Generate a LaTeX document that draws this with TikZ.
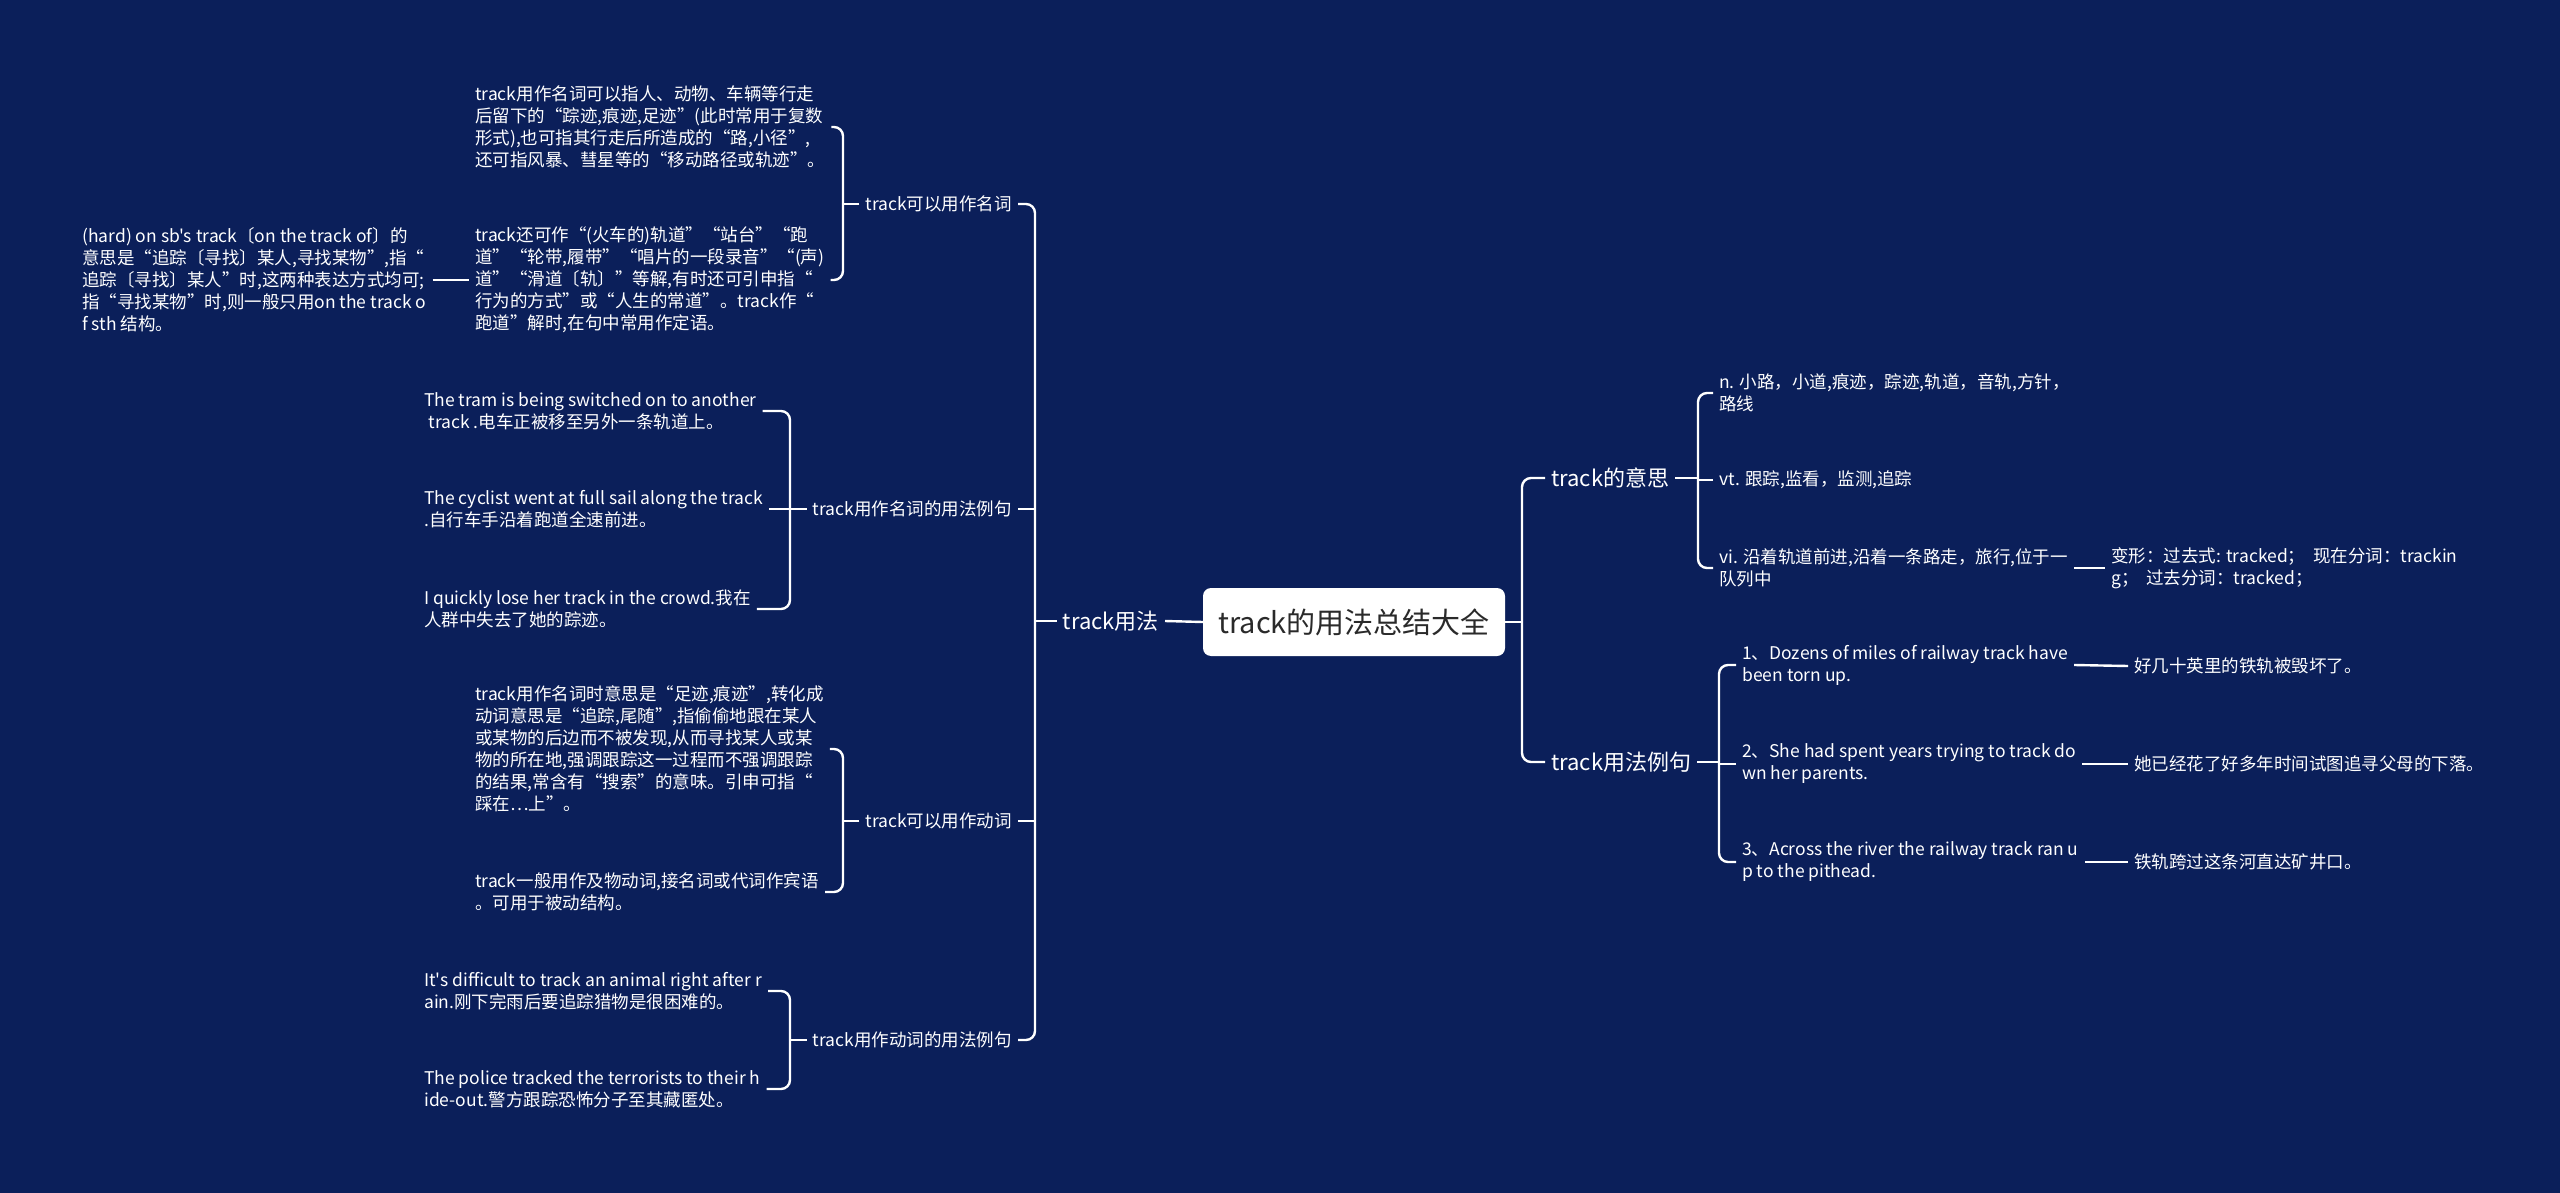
\documentclass[tikz,border=0pt]{standalone}
\usepackage{fontspec}
\setmainfont{Noto Sans CJK SC}[Ligatures=TeXOff]
\definecolor{bg}{HTML}{0B1F5A}
\definecolor{roottext}{HTML}{2A2A2A}
\tikzset{
  conn/.style={draw=white, line width=2.4pt, rounded corners=9pt},
  leaf/.style={text=white, font=\fontsize{17.5}{22}\selectfont, align=left, inner sep=6pt, anchor=west},
  lbl/.style={text=white, font=\fontsize{17.5}{22}\selectfont, inner sep=6pt},
  lvlone/.style={text=white, font=\fontsize{22}{26}\selectfont, inner sep=6pt},
  rootbox/.style={fill=white, text=roottext, rounded corners=8pt, minimum width=302pt, minimum height=68pt, font=\fontsize{29}{34}\selectfont, inner sep=0pt}
}
\begin{document}
\begin{tikzpicture}[x=1pt,y=-1pt]
\useasboundingbox (0,0) rectangle (2560,1193);
\fill[bg] (0,0) rectangle (2560,1193);

% bracket x positions
\coordinate (bL) at (1035,0);
\coordinate (bR) at (1522,0);
\coordinate (bN) at (843,0);
\coordinate (bNE) at (790,0);
\coordinate (bM) at (1698,0);
\coordinate (bX) at (1719,0);

% root and level 1
\node[rootbox] (root) at (1354,622) {track的用法总结大全};
\node[lvlone, anchor=east] (use) at (1165,621) {track用法};
\node[lvlone, anchor=west] (mean) at (1545,478) {track的意思};
\node[lvlone, anchor=west] (ex) at (1545,762) {track用法例句};

% level 2 left
\node[lbl, anchor=east] (nn) at (1018,204) {track可以用作名词};
\node[lbl, anchor=east] (nex) at (1018,509) {track用作名词的用法例句};
\node[lbl, anchor=east] (vv) at (1018,821) {track可以用作动词};
\node[lbl, anchor=east] (vex) at (1018,1040) {track用作动词的用法例句};

% leaves left
\node[leaf] (n1) at (469,127) {track用作名词可以指人、动物、车辆等行走\\后留下的“踪迹,痕迹,足迹”(此时常用于复数\\形式),也可指其行走后所造成的“路,小径”,\\还可指风暴、彗星等的“移动路径或轨迹”。};
\node[leaf] (n2) at (469,280) {track还可作“(火车的)轨道”“站台”“跑\\道”“轮带,履带”“唱片的一段录音”“(声)\\道”“滑道〔轨〕”等解,有时还可引申指“\\行为的方式”或“人生的常道”。track作“\\跑道”解时,在句中常用作定语。};
\node[leaf] (hard) at (76,280) {(hard) on sb's track〔on the track of〕的\\意思是“追踪〔寻找〕某人,寻找某物”,指“\\追踪〔寻找〕某人”时,这两种表达方式均可;\\指“寻找某物”时,则一般只用on the track o\\f sth 结构。};

\node[leaf] (e1) at (418,411) {The tram is being switched on to another\\\hspace*{0.25em}track .电车正被移至另外一条轨道上。};
\node[leaf] (e2) at (418,509) {The cyclist went at full sail along the track\\.自行车手沿着跑道全速前进。};
\node[leaf] (e3) at (418,609) {I quickly lose her track in the crowd.我在\\人群中失去了她的踪迹。};

\node[leaf] (v1) at (469,749) {track用作名词时意思是“足迹,痕迹”,转化成\\动词意思是“追踪,尾随”,指偷偷地跟在某人\\或某物的后边而不被发现,从而寻找某人或某\\物的所在地,强调跟踪这一过程而不强调跟踪\\的结果,常含有“搜索”的意味。引申可指“\\踩在…上”。};
\node[leaf] (v2) at (469,892) {track一般用作及物动词,接名词或代词作宾语\\。可用于被动结构。};

\node[leaf] (ve1) at (418,991) {It's difficult to track an animal right after r\\ain.刚下完雨后要追踪猎物是很困难的。};
\node[leaf] (ve2) at (418,1089) {The police tracked the terrorists to their h\\ide-out.警方跟踪恐怖分子至其藏匿处。};

% leaves right
\node[leaf] (m1) at (1713,393) {n. 小路，小道,痕迹，踪迹,轨道，音轨,方针，\\路线};
\node[leaf] (m2) at (1713,480) {vt. 跟踪,监看，监测,追踪};
\node[leaf] (m3) at (1713,568) {vi. 沿着轨道前进,沿着一条路走，旅行,位于一\\队列中};
\node[leaf] (m3c) at (2105,568) {变形：过去式: tracked；\ \ 现在分词：trackin\\g；\ \ 过去分词：tracked；};

\node[leaf] (x1) at (1736,665) {1、Dozens of miles of railway track have\\been torn up.};
\node[leaf] (x2) at (1736,764) {2、She had spent years trying to track do\\wn her parents.};
\node[leaf] (x3) at (1736,862) {3、Across the river the railway track ran u\\p to the pithead.};
\node[leaf] (x1c) at (2128,666) {好几十英里的铁轨被毁坏了。};
\node[leaf] (x2c) at (2128,764) {她已经花了好多年时间试图追寻父母的下落。};
\node[leaf] (x3c) at (2128,862) {铁轨跨过这条河直达矿井口。};

% connectors: root
\draw[conn] (use.east) -- (root.west);
\draw[conn] (use.west) -- (use.west -| bL);
\draw[conn] (nn.east) -- (nn.east -| bL) -- (vex.east -| bL) -- (vex.east);
\draw[conn] (nex.east) -- (nex.east -| bL);
\draw[conn] (vv.east) -- (vv.east -| bL);

\draw[conn] (root.east) -- (root.east -| bR);
\draw[conn] (mean.west) -- (mean.west -| bR) -- (ex.west -| bR) -- (ex.west);

% noun group
\draw[conn] (nn.west) -- (nn.west -| bN);
\draw[conn] (n1.east) -- (n1.east -| bN) -- (n2.east -| bN) -- (n2.east);
\draw[conn] (hard.east) -- (n2.west);

% noun examples
\draw[conn] (nex.west) -- (nex.west -| bNE);
\draw[conn] (e1.east) -- (e1.east -| bNE) -- (e3.east -| bNE) -- (e3.east);
\draw[conn] (e2.east) -- (e2.east -| bNE);

% verb group
\draw[conn] (vv.west) -- (vv.west -| bN);
\draw[conn] (v1.east) -- (v1.east -| bN) -- (v2.east -| bN) -- (v2.east);

% verb examples
\draw[conn] (vex.west) -- (vex.west -| bNE);
\draw[conn] (ve1.east) -- (ve1.east -| bNE) -- (ve2.east -| bNE) -- (ve2.east);

% meanings
\draw[conn] (mean.east) -- (mean.east -| bM);
\draw[conn] (m1.west) -- (m1.west -| bM) -- (m3.west -| bM) -- (m3.west);
\draw[conn] (m2.west) -- (m2.west -| bM);
\draw[conn] (m3.east) -- (m3c.west);

% examples
\draw[conn] (ex.east) -- (ex.east -| bX);
\draw[conn] (x1.west) -- (x1.west -| bX) -- (x3.west -| bX) -- (x3.west);
\draw[conn] (x2.west) -- (x2.west -| bX);
\draw[conn] (x1.east) -- (x1c.west);
\draw[conn] (x2.east) -- (x2c.west);
\draw[conn] (x3.east) -- (x3c.west);
\end{tikzpicture}
\end{document}
